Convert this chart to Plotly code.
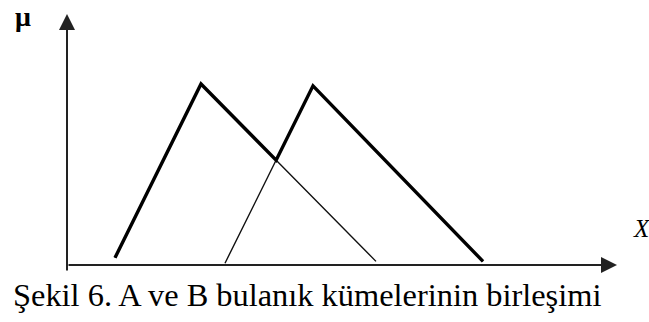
import numpy as np
import plotly.graph_objects as go

# Triangular fuzzy sets A and B: support start, peak, support end
A_x = [4.8, 13.4, 30.9]
A_mu = [0.04, 1.0, 0.02]
B_x = [15.8, 24.6, 41.6]
B_mu = [0.01, 0.99, 0.02]

# Axis extents (universe X, membership mu)
X_AXIS_END = 55.0
MU_AXIS_END = 1.387
MU_AXIS_START = -0.039

CAPTION = "Şekil 6. A ve B bulanık kümelerinin birleşimi"
Y_LABEL = "μ"
X_LABEL = "X"

W, H = 649, 322


def seg_intersect(p1, p2, p3, p4):
    """Intersection of line p1-p2 with line p3-p4."""
    p1, p2, p3, p4 = map(np.asarray, (p1, p2, p3, p4))
    d1 = p2 - p1
    d2 = p4 - p3
    m = np.array([d1, -d2]).T
    t, _ = np.linalg.solve(m, p3 - p1)
    return p1 + t * d1


# Union A ∪ B = max(μA, μB): falling edge of A meets rising edge of B
ix, imu = seg_intersect((A_x[1], A_mu[1]), (A_x[2], A_mu[2]),
                        (B_x[0], B_mu[0]), (B_x[1], B_mu[1]))
U_x = [A_x[0], A_x[1], ix, B_x[1], B_x[2]]
U_mu = [A_mu[0], A_mu[1], imu, B_mu[1], B_mu[2]]

fig = go.Figure()

# the two sets, thin
for xs, ys in ((A_x, A_mu), (B_x, B_mu)):
    fig.add_trace(go.Scatter(x=xs, y=ys, mode="lines",
                             line=dict(color="#111111", width=1.4),
                             hoverinfo="skip", showlegend=False))

# the union, thick
fig.add_trace(go.Scatter(x=U_x, y=U_mu, mode="lines",
                         line=dict(color="#000000", width=3.4),
                         hoverinfo="skip", showlegend=False))

# axes with arrowheads
axis_style = dict(text="", showarrow=True, arrowhead=2, arrowsize=1.6,
                  arrowwidth=2, arrowcolor="#222222", standoff=0,
                  xref="x", yref="y", axref="x", ayref="y")
fig.add_annotation(x=X_AXIS_END, y=0, ax=0, ay=0, **axis_style)
fig.add_annotation(x=0, y=MU_AXIS_END, ax=0, ay=MU_AXIS_START, **axis_style)

# labels
fig.add_annotation(x=23 / W, y=1, xref="paper", yref="paper",
                   text=f"<b>{Y_LABEL}</b>", showarrow=False, borderpad=0,
                   font=dict(family="Liberation Serif", size=28, color="#000"),
                   xanchor="center", yanchor="top")
fig.add_annotation(x=631 / W, y=1 - 229 / H, xref="paper", yref="paper",
                   text=f"<i>{X_LABEL}</i>", showarrow=False,
                   font=dict(family="Liberation Serif", size=25, color="#000"),
                   xanchor="left", yanchor="middle")
fig.add_annotation(x=11 / W, y=1 - 295 / H, xref="paper", yref="paper",
                   text=CAPTION, showarrow=False,
                   font=dict(family="Liberation Serif", size=32.4, color="#000"),
                   xanchor="left", yanchor="middle")

px_per_unit_x = 10.0
px_per_unit_y = 181.0
x0_px, y0_px = 67.0, 265.0

fig.update_layout(
    width=W, height=H,
    margin=dict(l=0, r=0, t=0, b=0),
    paper_bgcolor="white", plot_bgcolor="white",
    xaxis=dict(range=[-x0_px / px_per_unit_x, (W - x0_px) / px_per_unit_x],
               visible=False, fixedrange=True),
    yaxis=dict(range=[-(H - y0_px) / px_per_unit_y, y0_px / px_per_unit_y],
               visible=False, fixedrange=True),
)

fig.write_html("out.html")
